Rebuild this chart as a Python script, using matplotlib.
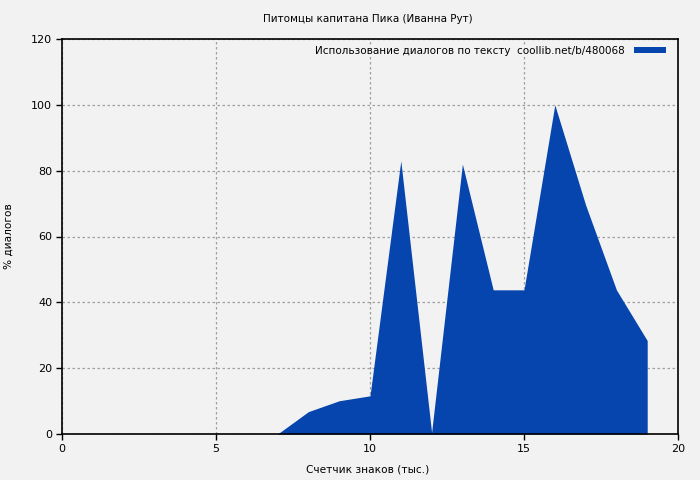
import matplotlib
matplotlib.use("Agg")
import matplotlib.pyplot as plt
from matplotlib.patches import Patch

x_vals = [0, 1, 2, 3, 4, 5, 6, 7, 8, 9, 10, 11, 12, 13, 14, 15, 16, 17, 18, 19]
y_vals = [0, 0, 0, 0, 0, 0, 0, 0, 6.8, 10.1, 11.6, 83, 0.5, 82, 43.8, 43.8, 100, 69.6, 43.8, 28.4]
x_ticks = [0, 5, 10, 15, 20]
y_ticks = [0, 20, 40, 60, 80, 100, 120]
title = "Питомцы капитана Пика (Иванна Рут)"
x_label = "Счетчик знаков (тыс.)"
y_label = "% диалогов"
legend_label = "Использование диалогов по тексту  coollib.net/b/480068"

bg = "#f2f2f2"
fill = "#0645ad"

plt.rcParams['font.family'] = ['DejaVu Sans']
fig = plt.figure(figsize=(7, 4.8), dpi=100, facecolor=bg)
ax = fig.add_axes([62/700, 1-434/480, (678-62)/700, (434-39)/480])
ax.set_facecolor(bg)

ax.fill_between(x_vals, y_vals, 0, color=fill, linewidth=0, zorder=2)

ax.set_xlim(0, 20)
ax.set_ylim(0, 120)
ax.set_xticks(x_ticks)
ax.set_yticks(y_ticks)
ax.tick_params(direction='out', length=4, width=1, labelsize=8, colors='black', pad=3)
ax.grid(True, color='#a0a0a0', linestyle=(0, (2, 2)), linewidth=0.9, zorder=1)
for s in ax.spines.values():
    s.set_color('black')
    s.set_linewidth(1.2)

fig.text(368/700, 1-19/480, title, ha='center', va='center', fontsize=7.5)
fig.text(368/700, 1-469/480, x_label, ha='center', va='center', fontsize=7.6)
fig.text(9/700, 1-236/480, y_label, ha='center', va='center', rotation=90, fontsize=7.6)

handle = Patch(facecolor=fill, edgecolor='none')
leg = ax.legend([handle], [legend_label], loc='upper right', frameon=True,
                markerfirst=False, fontsize=7.5, handlelength=3.1, handleheight=0.55,
                bbox_to_anchor=((666-62)/616, 1-(46-39)/395),
                borderaxespad=0, handletextpad=0.9, borderpad=0.0)
leg.get_frame().set_facecolor(bg)
leg.get_frame().set_edgecolor('none')
leg.get_frame().set_alpha(1)

fig.savefig("out.png", dpi=100, facecolor=bg)
